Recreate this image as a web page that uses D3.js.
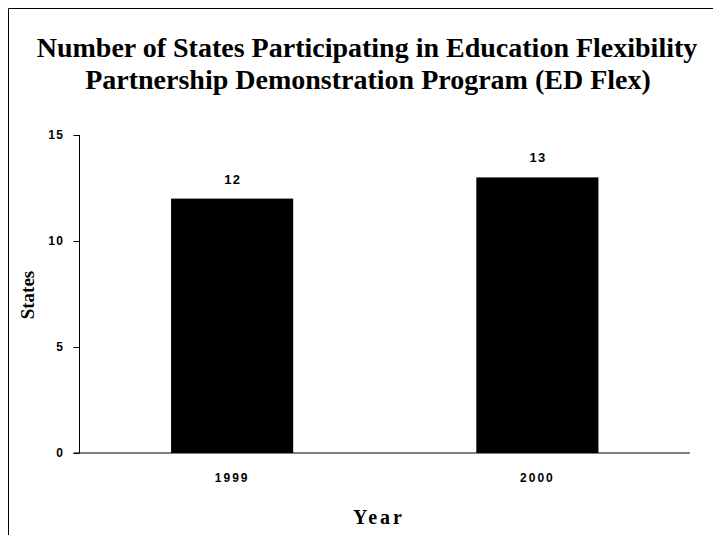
<!DOCTYPE html>
<html>
<head>
<meta charset="utf-8">
<script src="https://cdn.jsdelivr.net/npm/d3@7"></script>
<style>
  body { margin: 0; background: #fff; }
</style>
</head>
<body>
<div id="chart-area"></div>
<script>
// data
var years = ["1999", "2000"];
var states = [12, 13];
var yTicks = [0, 5, 10, 15];

var width = 713, height = 535;
var margin = { left: 79.5, right: 23, top: 135, bottom: 82 };

var svg = d3.select("#chart-area").append("svg")
	.attr("width", width)
	.attr("height", height);

// frame: only top and left edges show
svg.append("path")
	.attr("d", "M8.5,535 V8.5 H713")
	.attr("fill", "none")
	.attr("stroke", "#000")
	.attr("stroke-width", 1);

var x = d3.scaleBand()
	.domain(years)
	.range([margin.left, width - margin.right])
	.paddingInner(0.6)
	.paddingOuter(0.3);

var y = d3.scaleLinear()
	.domain([0, 15])
	.range([height - margin.bottom, margin.top]);

// title
var title = svg.append("text")
	.attr("text-anchor", "middle")
	.attr("font-family", "'Liberation Serif', 'Times New Roman', serif")
	.attr("font-weight", "bold")
	.attr("font-size", 28);
title.append("tspan").attr("x", 367).attr("y", 57)
	.text("Number of States Participating in Education Flexibility");
title.append("tspan").attr("x", 368).attr("y", 89)
	.text("Partnership Demonstration Program (ED Flex)");

// bars
svg.selectAll("rect.bar")
	.data(states)
	.enter()
	.append("rect")
		.attr("class", "bar")
		.attr("x", function(d, i){ return x(years[i]); })
		.attr("y", function(d){ return y(d); })
		.attr("width", x.bandwidth())
		.attr("height", function(d){ return y(0) - y(d); })
		.style("fill", "#000");

// value labels
svg.selectAll("text.val")
	.data(states)
	.enter()
	.append("text")
		.attr("class", "val")
		.attr("x", function(d, i){ return x(years[i]) + x.bandwidth() / 2 + 0.75; })
		.attr("y", function(d){ return y(d) - 15; })
		.attr("text-anchor", "middle")
		.attr("font-family", "'Liberation Sans', Arial, sans-serif")
		.attr("font-weight", "bold")
		.attr("font-size", 13)
		.attr("letter-spacing", 1.5)
		.text(function(d){ return d; });

// y axis
var yAxis = svg.append("g")
	.attr("transform", "translate(" + margin.left + ",0)")
	.call(d3.axisLeft(y).tickValues(yTicks).tickSize(6).tickPadding(9));
yAxis.select(".domain").attr("d", "M0," + y(15) + "V" + y(0));
yAxis.selectAll("text")
	.attr("font-family", "'Liberation Sans', Arial, sans-serif")
	.attr("font-weight", "bold")
	.attr("font-size", 12)
	.attr("letter-spacing", 1.5)
	.attr("fill", "#000");

// x axis
var xAxis = svg.append("g")
	.attr("transform", "translate(0," + y(0) + ")")
	.call(d3.axisBottom(x).tickSize(0).tickPadding(20));
xAxis.select(".domain").attr("d", "M" + (margin.left - 6) + ",0H" + (width - margin.right));
xAxis.selectAll("text")
	.attr("font-family", "'Liberation Sans', Arial, sans-serif")
	.attr("font-weight", "bold")
	.attr("font-size", 12)
	.attr("letter-spacing", 2)
	.attr("fill", "#000");

// axis titles
svg.append("text")
	.attr("x", 379)
	.attr("y", 524)
	.attr("text-anchor", "middle")
	.attr("font-family", "'Liberation Serif', 'Times New Roman', serif")
	.attr("font-weight", "bold")
	.attr("font-size", 20)
	.attr("letter-spacing", 3)
	.text("Year");

svg.append("text")
	.attr("transform", "translate(34,295) rotate(-90)")
	.attr("text-anchor", "middle")
	.attr("font-family", "'Liberation Serif', 'Times New Roman', serif")
	.attr("font-weight", "bold")
	.attr("font-size", 19)
	.text("States");
</script>
</body>
</html>
